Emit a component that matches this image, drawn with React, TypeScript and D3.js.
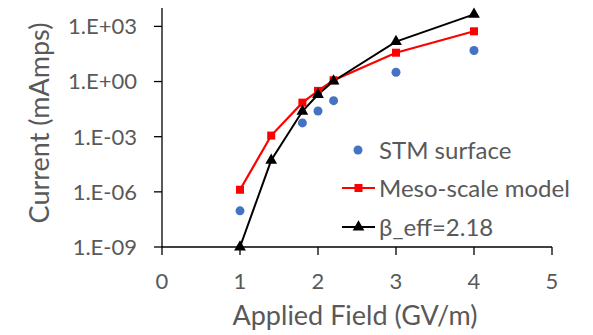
import * as d3 from "d3";

// field values (GV/m)
const stmField = [1, 1.8, 2, 2.2, 3, 4];
const stmCurrent = [9.3e-8, 5.6e-3, 2.5e-2, 9.1e-2, 3.2, 49];

const modelField = [1, 1.4, 1.8, 2, 2.2, 3, 4];
const mesoCurrent = [1.3e-6, 1.15e-3, 7.1e-2, 0.31, 1.17, 37, 540];
const betaCurrent = [1e-9, 5.2e-5, 2.4e-2, 0.195, 1.07, 150, 4500];

const xTicks = [0, 1, 2, 3, 4, 5];
const yTicks = [1e-9, 1e-6, 1e-3, 1, 1e3];
const yTickLabels = ["1.E-09", "1.E-06", "1.E-03", "1.E+00", "1.E+03"];

const legendItems = ["STM surface", "Meso-scale model", "β_eff=2.18"];

const FONT = "Lato, 'Open Sans', sans-serif";
const TEXT = "#595959";

export default function App() {
  const W = 593;
  const H = 335;

  const x = d3.scaleLinear().domain([0, 5]).range([162, 552]);
  const y = d3.scaleLog().domain([1e-9, 1e4]).range([247, 8]);

  const line = d3
    .line<[number, number]>()
    .x(d => x(d[0]))
    .y(d => y(d[1]));

  const meso = modelField.map((f, i) => [f, mesoCurrent[i]] as [number, number]);
  const beta = modelField.map((f, i) => [f, betaCurrent[i]] as [number, number]);
  const stm = stmField.map((f, i) => [f, stmCurrent[i]] as [number, number]);

  const tri = d3.symbol().type(d3.symbolTriangle).size(60)()!;

  const y0 = y.range()[0];
  const x0 = x.range()[0];

  return (
    <svg width={W} height={H} style={{ position: "absolute", left: 0, top: 0, background: "#fff" }}>
      <rect width={W} height={H} fill="#fff" />
      {/* axes */}
      <line x1={x0} x2={x0} y1={y.range()[1]} y2={y0} stroke="#000" strokeWidth={1.3} />
      <line x1={x0} x2={x.range()[1]} y1={y0} y2={y0} stroke="#000" strokeWidth={1.3} />
      {yTicks.map((t, i) => (
        <g key={"y" + t}>
          <line x1={x0 - 8} x2={x0} y1={y(t)} y2={y(t)} stroke="#000" strokeWidth={1.3} />
          <text x={137} y={y(t)} dy="0.36em" textAnchor="end" fontFamily={FONT} fontSize={22} fill={TEXT}>
            {yTickLabels[i]}
          </text>
        </g>
      ))}
      {xTicks.map(t => (
        <g key={"x" + t}>
          <line x1={x(t)} x2={x(t)} y1={y0} y2={y0 + 8} stroke="#000" strokeWidth={1.3} />
          <text x={x(t)} y={289} textAnchor="middle" fontFamily={FONT} fontSize={22} fill={TEXT}>
            {t}
          </text>
        </g>
      ))}
      <text x={355} y={325} textAnchor="middle" fontFamily={FONT} fontSize={27} fill={TEXT}>
        Applied Field (GV/m)
      </text>
      <text
        transform={`translate(49,123) rotate(-90)`}
        textAnchor="middle"
        fontFamily={FONT}
        fontSize={27}
        fill={TEXT}
      >
        Current (mAmps)
      </text>

      {/* series */}
      <path d={line(meso)!} fill="none" stroke="#ff0000" strokeWidth={2.2} />
      <path d={line(beta)!} fill="none" stroke="#000" strokeWidth={2} />
      {stm.map((d, i) => (
        <circle key={"s" + i} cx={x(d[0])} cy={y(d[1])} r={4.5} fill="#4472c4" />
      ))}
      {meso.map((d, i) => (
        <rect key={"m" + i} x={x(d[0]) - 4} y={y(d[1]) - 4} width={8} height={8} fill="#ff0000" />
      ))}
      {beta.map((d, i) => (
        <path key={"b" + i} d={tri} transform={`translate(${x(d[0])},${y(d[1])})`} fill="#000" />
      ))}

      {/* legend */}
      <g fontFamily={FONT} fontSize={24} fill={TEXT}>
        <circle cx={358} cy={150} r={4.5} fill="#4472c4" />
        <text x={379} y={150} dy="0.36em">{legendItems[0]}</text>
        <line x1={342} x2={375} y1={188} y2={188} stroke="#ff0000" strokeWidth={2.2} />
        <rect x={354.5} y={184} width={8} height={8} fill="#ff0000" />
        <text x={379} y={188} dy="0.36em">{legendItems[1]}</text>
        <line x1={342} x2={375} y1={227} y2={227} stroke="#000" strokeWidth={2} />
        <path d={tri} transform="translate(358.5,227)" fill="#000" />
        <text x={379} y={227} dy="0.36em">{legendItems[2]}</text>
      </g>
    </svg>
  );
}
